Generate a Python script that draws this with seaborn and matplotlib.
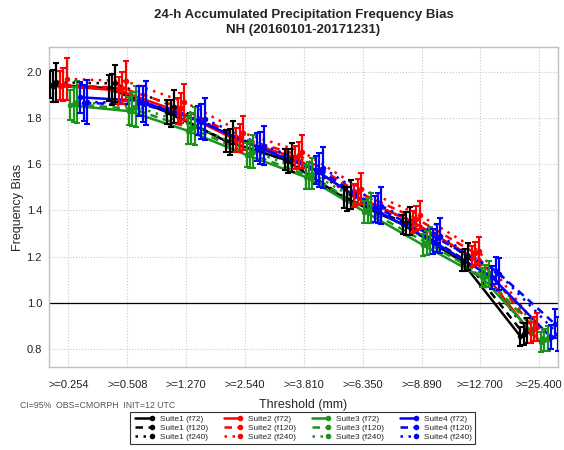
import numpy as np
import pandas as pd
import matplotlib
matplotlib.use("Agg")
import matplotlib.pyplot as plt
from matplotlib.lines import Line2D
from matplotlib.legend_handler import HandlerLine2D
import seaborn as sns

# Thresholds (mm) shown on the x axis
thresholds = [">=0.254", ">=0.508", ">=1.270", ">=2.540", ">=3.810",
              ">=6.350", ">=8.890", ">=12.700", ">=25.400"]
suites = ["Suite1", "Suite2", "Suite3", "Suite4"]
leads = ["f72", "f120", "f240"]

# Frequency bias per suite: rows are f72, f120, f240
suite1_bias = [
    [1.945, 1.930, 1.825, 1.700, 1.620, 1.455, 1.340, 1.180, 0.855],
    [1.940, 1.925, 1.820, 1.695, 1.615, 1.450, 1.345, 1.185, 0.865],
    [1.955, 1.950, 1.850, 1.720, 1.630, 1.470, 1.355, 1.200, 0.880],
]
suite2_bias = [
    [1.940, 1.920, 1.830, 1.705, 1.630, 1.465, 1.350, 1.200, 0.870],
    [1.945, 1.930, 1.845, 1.715, 1.640, 1.480, 1.365, 1.215, 0.885],
    [1.970, 1.960, 1.870, 1.735, 1.655, 1.495, 1.380, 1.225, 0.895],
]
suite3_bias = [
    [1.855, 1.830, 1.745, 1.640, 1.545, 1.395, 1.250, 1.110, 0.830],
    [1.860, 1.840, 1.755, 1.645, 1.550, 1.400, 1.260, 1.115, 0.840],
    [1.870, 1.850, 1.765, 1.655, 1.560, 1.410, 1.270, 1.125, 0.845],
]
suite4_bias = [
    [1.890, 1.875, 1.790, 1.675, 1.575, 1.405, 1.265, 1.110, 0.850],
    [1.865, 1.860, 1.785, 1.670, 1.575, 1.410, 1.280, 1.140, 0.910],
    [1.870, 1.865, 1.795, 1.680, 1.585, 1.420, 1.290, 1.125, 0.865],
]

# 95% confidence half-widths, same layout
suite1_ci = [
    [0.060, 0.058, 0.052, 0.048, 0.045, 0.045, 0.042, 0.040, 0.040],
    [0.070, 0.068, 0.060, 0.056, 0.052, 0.052, 0.050, 0.048, 0.047],
    [0.084, 0.080, 0.072, 0.066, 0.062, 0.062, 0.060, 0.058, 0.055],
]
suite2_ci = [
    [0.062, 0.060, 0.056, 0.052, 0.050, 0.048, 0.046, 0.044, 0.046],
    [0.072, 0.070, 0.065, 0.060, 0.058, 0.056, 0.054, 0.050, 0.052],
    [0.090, 0.086, 0.078, 0.072, 0.070, 0.066, 0.062, 0.060, 0.062],
]
suite3_ci = [
    [0.065, 0.062, 0.058, 0.052, 0.050, 0.048, 0.046, 0.042, 0.042],
    [0.076, 0.074, 0.068, 0.060, 0.058, 0.056, 0.052, 0.048, 0.048],
    [0.092, 0.088, 0.082, 0.070, 0.068, 0.064, 0.060, 0.056, 0.055],
]
suite4_ci = [
    [0.066, 0.066, 0.064, 0.060, 0.060, 0.056, 0.054, 0.050, 0.052],
    [0.078, 0.078, 0.076, 0.070, 0.072, 0.066, 0.062, 0.060, 0.062],
    [0.094, 0.094, 0.092, 0.084, 0.088, 0.080, 0.076, 0.070, 0.072],
]

bias_by_suite = [suite1_bias, suite2_bias, suite3_bias, suite4_bias]
ci_by_suite = [suite1_ci, suite2_ci, suite3_ci, suite4_ci]

colors = {"Suite1": "#000000", "Suite2": "#ff0000",
          "Suite3": "#1a931a", "Suite4": "#0000ff"}
dashes = {"f72": "", "f120": (3, 2.2), "f240": (1, 2.2)}
lstyles = {"f72": "-", "f120": (0, (3, 2.2)), "f240": (0, (1, 2.2))}

# long-form table; each series is nudged sideways inside its threshold slot
rows = []
step = 0.058
for si, s in enumerate(suites):
    for li, ld in enumerate(leads):
        k = si * 3 + li
        shift = (k - 5.5) * step
        for ci_, th in enumerate(thresholds):
            rows.append({"suite": s, "lead": ld, "threshold": th,
                         "x": ci_ + shift,
                         "bias": bias_by_suite[si][li][ci_],
                         "ci": ci_by_suite[si][li][ci_]})
df = pd.DataFrame(rows)

sns.set_theme(style="white")
plt.rcParams["font.family"] = ["Liberation Sans", "DejaVu Sans"]

fig = plt.figure(figsize=(5.64, 4.5), dpi=100)
ax = fig.add_axes([0.0869, 0.1844, 0.9025, 0.7112])

sns.lineplot(data=df, x="x", y="bias", hue="suite", style="lead",
             hue_order=suites, style_order=leads, palette=colors,
             dashes=dashes, markers={"f72": "o", "f120": "o", "f240": "o"},
             markersize=4, markeredgewidth=0, linewidth=1.8,
             sort=True, errorbar=None, legend=False, ax=ax)

for (s, ld), g in df.groupby(["suite", "lead"], sort=False):
    ax.errorbar(g["x"], g["bias"], yerr=g["ci"], fmt="none",
                ecolor=colors[s], elinewidth=1.6, capsize=2.2,
                capthick=1.5, zorder=3)

ax.axhline(1.0, color="black", linewidth=0.9, zorder=1)

ax.set_xlim(-0.33, 8.32)
ax.set_ylim(0.722, 2.108)
ax.set_xticks(range(len(thresholds)))
ax.set_xticklabels(thresholds)
ax.set_yticks([0.8, 1.0, 1.2, 1.4, 1.6, 1.8, 2.0])
ax.tick_params(axis="x", length=0, labelsize=8, colors="#222222", pad=9)
ax.tick_params(axis="y", length=0, labelsize=8, colors="#222222", pad=5)
ax.grid(True, linestyle=":", color="#c8c8c8", linewidth=0.8)
ax.set_axisbelow(True)
for sp in ax.spines.values():
    sp.set_color("#c0c0c0")
    sp.set_linewidth(1.0)

ax.set_xlabel("Threshold (mm)", fontsize=9, labelpad=7)
ax.set_ylabel("Frequency Bias", fontsize=9, labelpad=2)
ax.set_title("24-h Accumulated Precipitation Frequency Bias\nNH (20160101-20171231)",
             fontsize=9.5, fontweight="bold", pad=10, linespacing=1.3)

fig.text(0.036, 0.098, "CI=95%  OBS=CMORPH  INIT=12 UTC", fontsize=6.3,
         color="#555555", ha="left", va="center")


class EndMarkerHandler(HandlerLine2D):
    """Legend line with its marker only at the right-hand end."""

    def create_artists(self, legend, orig_handle, xdescent, ydescent,
                       width, height, fontsize, trans):
        artists = super().create_artists(legend, orig_handle, xdescent, ydescent,
                                         width, height, fontsize, trans)
        for a in artists:
            n = len(a.get_xdata())
            a.set_markevery([n - 1])
        return artists


handles, labels = [], []
for s in suites:
    for ld in leads:
        handles.append(Line2D([0, 1], [0, 0], color=colors[s], linestyle=lstyles[ld],
                              linewidth=1.8, marker="o", markersize=4,
                              markeredgewidth=0))
        labels.append(f"{s} ({ld})")

leg = fig.legend(handles, labels, ncol=4, loc="lower center",
                 bbox_to_anchor=(0.536, 0.004), fontsize=6, frameon=True,
                 fancybox=False, edgecolor="black", handlelength=2.6,
                 handletextpad=0.6, columnspacing=1.6, labelspacing=0.15,
                 borderpad=0.35, numpoints=2,
                 handler_map={Line2D: EndMarkerHandler()})
leg.get_frame().set_linewidth(0.8)

fig.savefig("out.png", dpi=100)
